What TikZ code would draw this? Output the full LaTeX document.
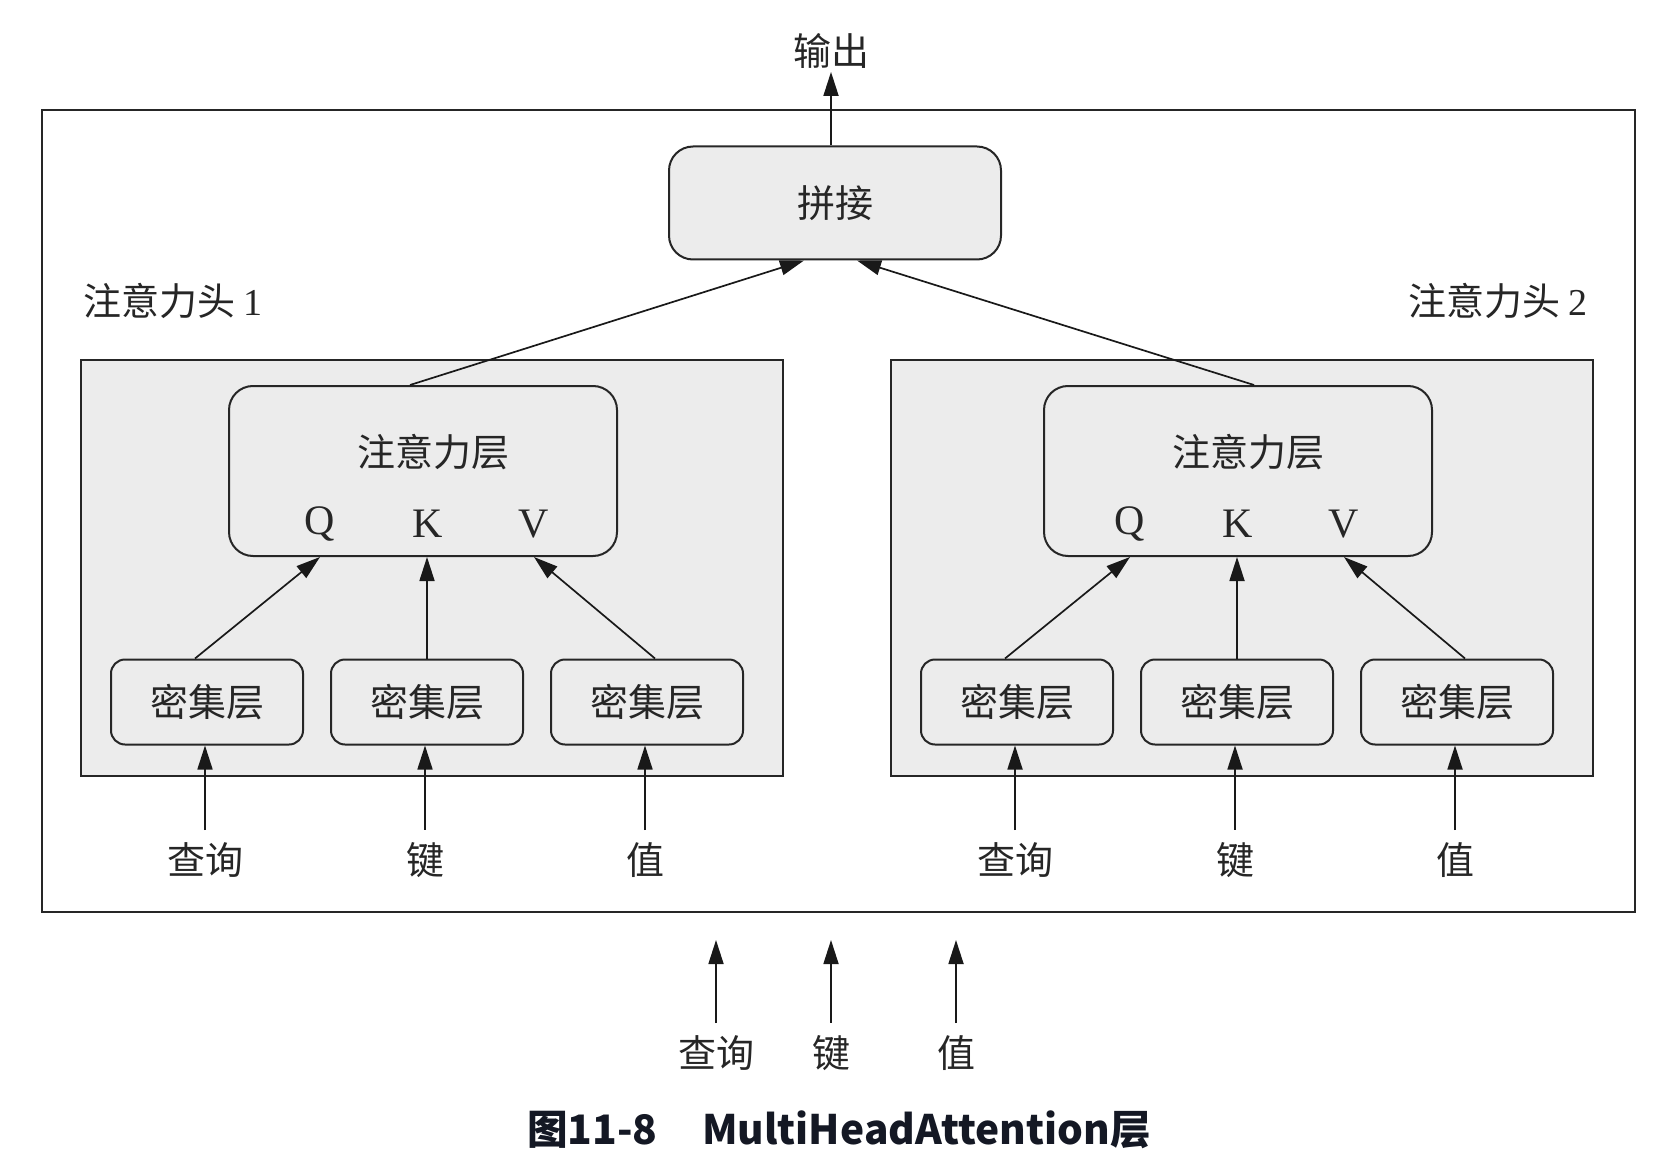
\documentclass[tikz,border=0pt]{standalone}
\usepackage{fontspec}
\setmainfont{Liberation Serif}
\newfontfamily\cjk{Noto Sans CJK SC}
\usetikzlibrary{arrows.meta,positioning}
\definecolor{capcol}{RGB}{20,24,36}
\tikzset{lbl/.style={font=\cjk\fontsize{19}{22}\selectfont,text=black!85,inner sep=1.5pt},
  inlbl/.style={lbl,inner ysep=6pt},
  qkv/.style={font=\rmfamily\fontsize{21}{24}\selectfont,text=black!85,inner sep=0pt},
  headbg/.style={draw=black!85,line width=1pt,fill=gray!15},
  attbox/.style={draw=black!85,line width=1pt,rounded corners=12pt,minimum width=194pt,minimum height=85pt},
  densebox/.style={lbl,draw=black!85,line width=1pt,rounded corners=7pt,minimum width=96pt,minimum height=42.5pt},
  arr/.style={-{Triangle[length=12pt,width=7.5pt]},line width=0.85pt,black!90}}

\begin{document}
\begin{tikzpicture}[x=0.5pt,y=-0.5pt]
\useasboundingbox (0,0) rectangle (1668,1176);
\draw[line width=1pt,black!85] (42,110) rectangle (1635,912);
\node[lbl] (out) at (831,51) {输出};
\node[lbl,draw=black!85,line width=1pt,fill=gray!15,rounded corners=12pt,minimum width=166pt,minimum height=56.5pt] (concat) at (835,203) {拼接};
\draw[arr] (concat.north -| out) -- (out.south);
\node[lbl,anchor=west] (hlbl1) at (80,301) {注意力头 {\rmfamily 1}};
\node[lbl,anchor=east] (hlbl2) at (1591,301) {注意力头 {\rmfamily 2}};
\foreach \o/\n/\s in {0/1/0,810/2/5}{
  \draw[headbg] ({81+\o},360) rectangle ({783+\o},776);
  \node[attbox] (att\n) at ({423+\o+\s},471) {};
  \node[lbl] (attt\n) at ({433+\o+\s},452) {注意力层};
  \node[qkv] (q\n) at ({320+\o},524) {Q};
  \node[qkv] (k\n) at ({428+\o},524) {K};
  \node[qkv] (v\n) at ({534+\o},524) {V};
  \foreach \x/\t [count=\i] in {207/查询,427/键,647/值}{
    \node[densebox] (d\n-\i) at ({\x+\o},702) {密集层};
    \node[inlbl] (in\n-\i) at ({\x+\o-2},860) {\t};
    \draw[arr] (in\n-\i.north) -- (in\n-\i.north |- d\n-\i.south);
  }
  \draw[arr] ([xshift=-6pt]d\n-1.north) -- (att\n.south -| q\n);
  \draw[arr] (d\n-2.north) -- (d\n-2.north |- att\n.south);
  \draw[arr] ([xshift=4pt]d\n-3.north) -- (att\n.south -| v\n);
}
\draw[arr] ([xshift=-6.5pt]att1.north) -- ([xshift=-15.5pt]concat.south);
\draw[arr] ([xshift=8pt]att2.north) -- ([xshift=11pt]concat.south);
\foreach \x/\t [count=\i] in {716/查询,831/键,956/值}{
  \coordinate (tip\i) at (\x,940);
  \node[inlbl] (b\i) at (\x,1053) {\t};
  \draw[arr] (b\i.north) -- (tip\i);
}
\node[font=\cjk\bfseries\fontsize{20.3}{24}\selectfont,text=capcol] (cap) at (839,1130) {图11-8\hspace{1.1em}MultiHeadAttention层};
\end{tikzpicture}
\end{document}
